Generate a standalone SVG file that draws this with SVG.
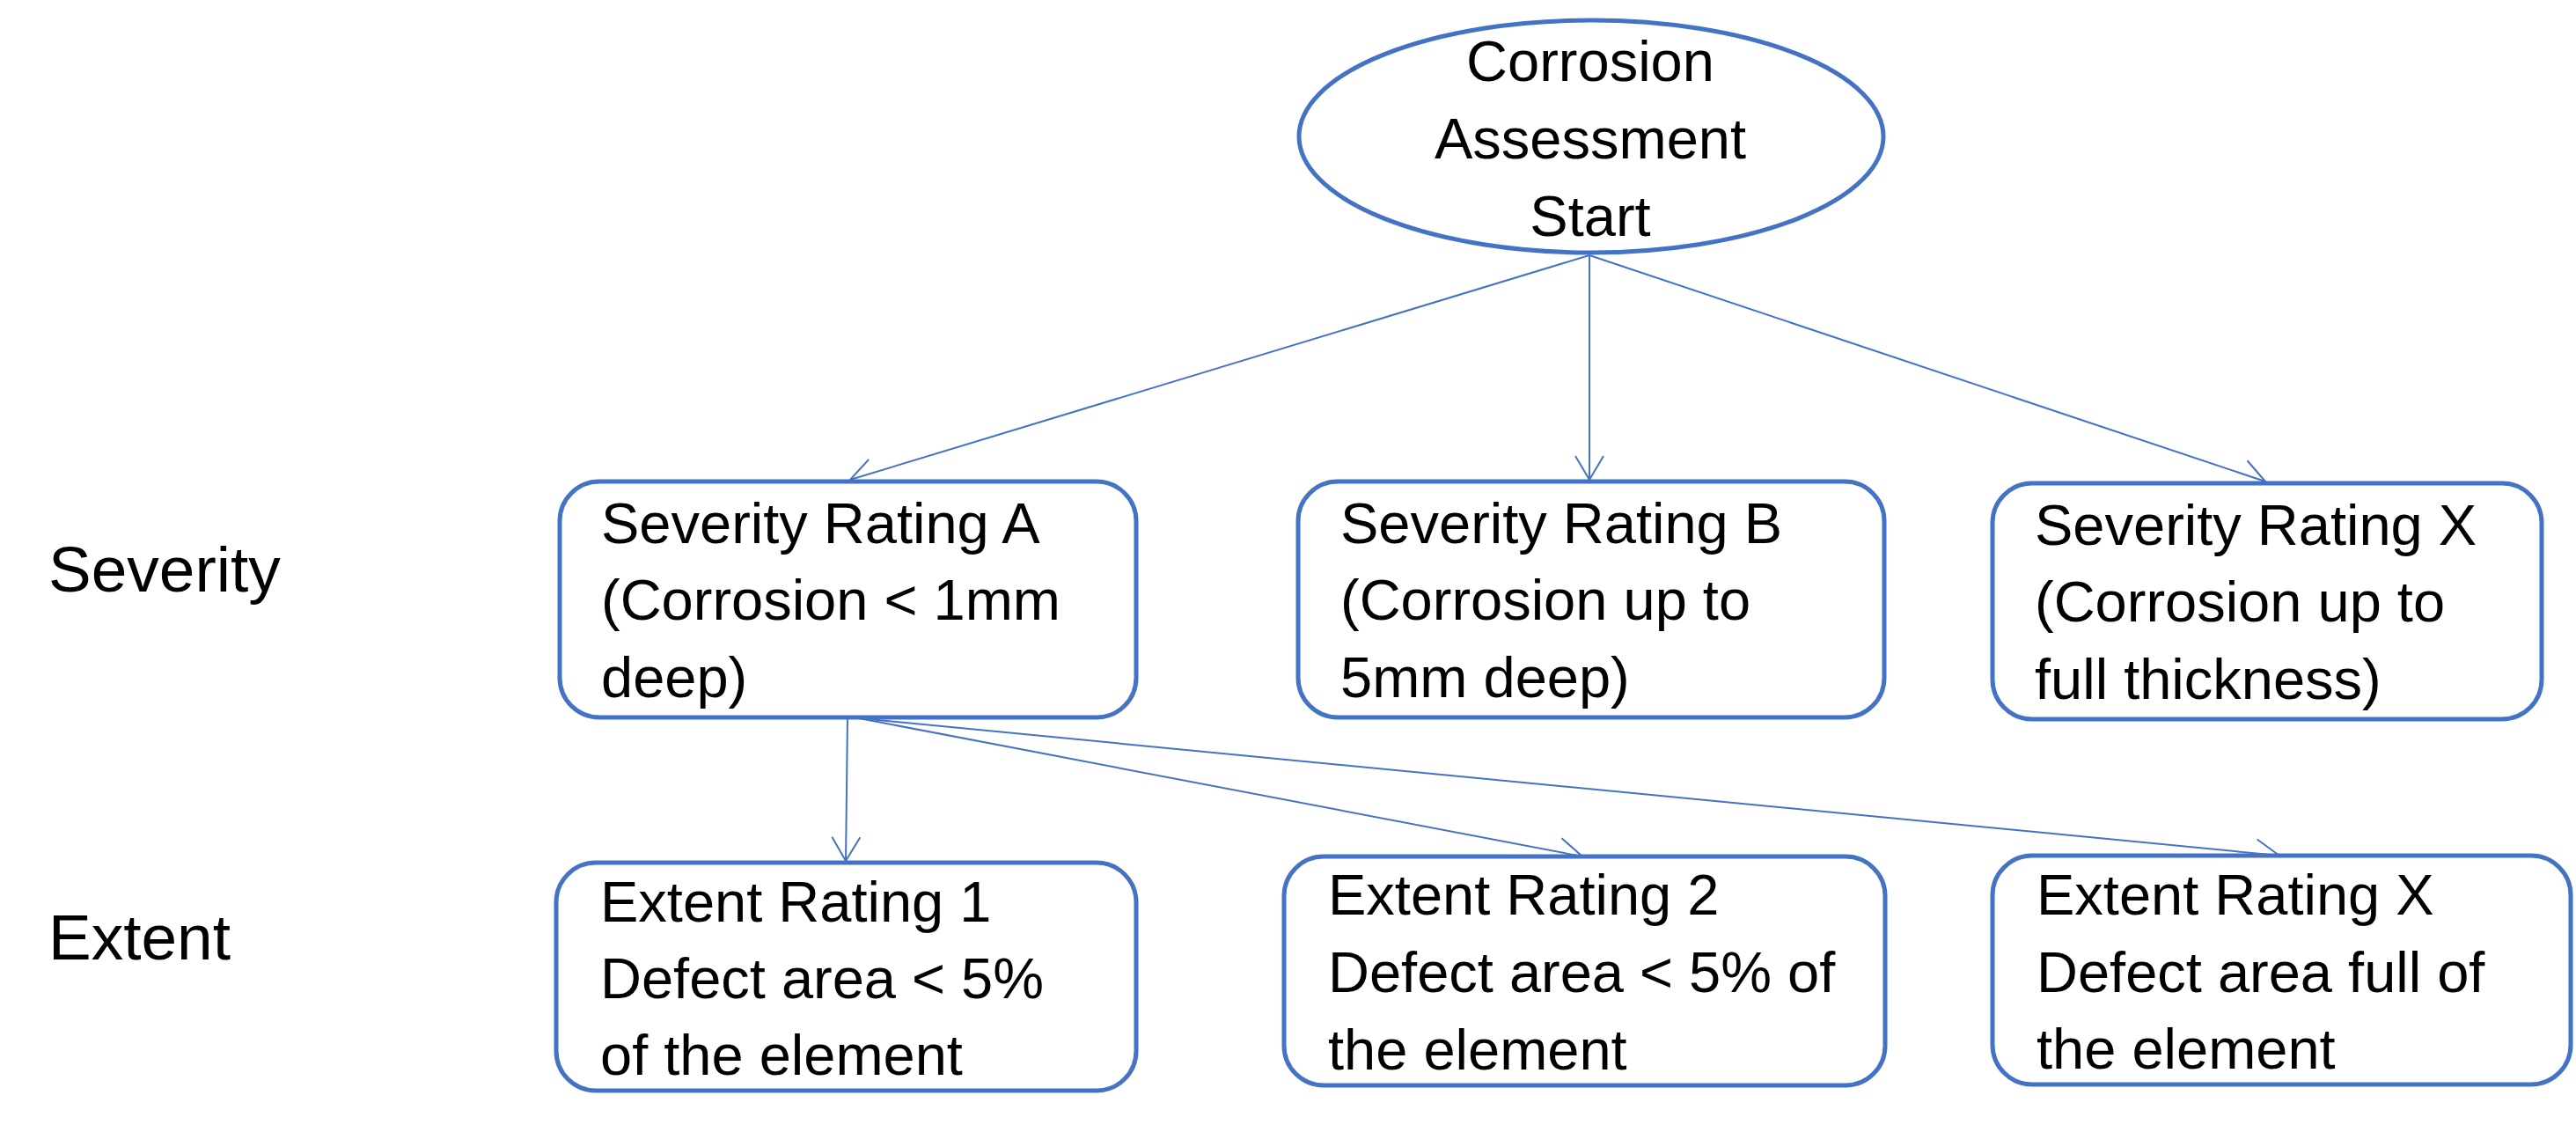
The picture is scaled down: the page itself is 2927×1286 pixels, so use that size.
<svg xmlns="http://www.w3.org/2000/svg" width="2927" height="1286" viewBox="0 0 2927 1286">
<style>
.node{fill:#fff;stroke:#4472C4;stroke-width:5}
.t{font-family:"Liberation Sans",Arial,sans-serif;font-size:65px;fill:#000}
.lbl{font-family:"Liberation Sans",Arial,sans-serif;font-size:73px;fill:#000}
.c{fill:none;stroke:#4472C4;stroke-width:2}
</style>
<defs>
<marker id="ah" viewBox="0 0 30 36" refX="29" refY="18" markerWidth="30" markerHeight="36" markerUnits="userSpaceOnUse" orient="auto">
<path d="M2,2 L29,18 L2,34" fill="none" stroke="#4472C4" stroke-width="2"/>
</marker>
</defs>
<rect width="2927" height="1286" fill="#fff"/>
<g id="labels">
<text class="lbl" x="55" y="672">Severity</text>
<text class="lbl" x="55" y="1090">Extent</text>
</g>
<g id="connectors">
<line class="c" x1="1806" y1="290" x2="966" y2="545" marker-end="url(#ah)"/>
<line class="c" x1="1806" y1="290" x2="1806" y2="545" marker-end="url(#ah)"/>
<line class="c" x1="1806" y1="290" x2="2574" y2="547" marker-end="url(#ah)"/>
<line class="c" x1="963" y1="816" x2="961" y2="978" marker-end="url(#ah)"/>
<line class="c" x1="976" y1="816" x2="1798" y2="973" marker-end="url(#ah)"/>
<line class="c" x1="976" y1="816" x2="2590" y2="972" marker-end="url(#ah)"/>
</g>
<g id="start">
<ellipse class="node" cx="1808" cy="155" rx="332" ry="132"/>
<text class="t" x="1807" y="92" text-anchor="middle">Corrosion</text>
<text class="t" x="1807" y="180" text-anchor="middle">Assessment</text>
<text class="t" x="1807" y="268" text-anchor="middle">Start</text>
</g>
<g id="sevA">
<rect class="node" x="636" y="547" width="655" height="268" rx="45"/>
<text class="t" x="683" y="617">Severity Rating A</text>
<text class="t" x="683" y="704">(Corrosion &lt; 1mm</text>
<text class="t" x="683" y="792">deep)</text>
</g>
<g id="sevB">
<rect class="node" x="1475" y="547" width="666" height="268" rx="45"/>
<text class="t" x="1523" y="617">Severity Rating B</text>
<text class="t" x="1523" y="704">(Corrosion up to</text>
<text class="t" x="1523" y="792">5mm deep)</text>
</g>
<g id="sevX">
<rect class="node" x="2264" y="549" width="624" height="268" rx="45"/>
<text class="t" x="2312" y="619">Severity Rating X</text>
<text class="t" x="2312" y="706">(Corrosion up to</text>
<text class="t" x="2312" y="794">full thickness)</text>
</g>
<g id="ext1">
<rect class="node" x="632" y="980" width="659" height="259" rx="45"/>
<text class="t" x="682" y="1047">Extent Rating 1</text>
<text class="t" x="682" y="1134">Defect area &lt; 5%</text>
<text class="t" x="682" y="1221">of the element</text>
</g>
<g id="ext2">
<rect class="node" x="1459" y="973" width="683" height="260" rx="45"/>
<text class="t" x="1509" y="1039">Extent Rating 2</text>
<text class="t" x="1509" y="1127">Defect area &lt; 5% of</text>
<text class="t" x="1509" y="1215">the element</text>
</g>
<g id="extX">
<rect class="node" x="2264" y="972" width="657" height="260" rx="45"/>
<text class="t" x="2314" y="1039">Extent Rating X</text>
<text class="t" x="2314" y="1127">Defect area full of</text>
<text class="t" x="2314" y="1214">the element</text>
</g>
</svg>
